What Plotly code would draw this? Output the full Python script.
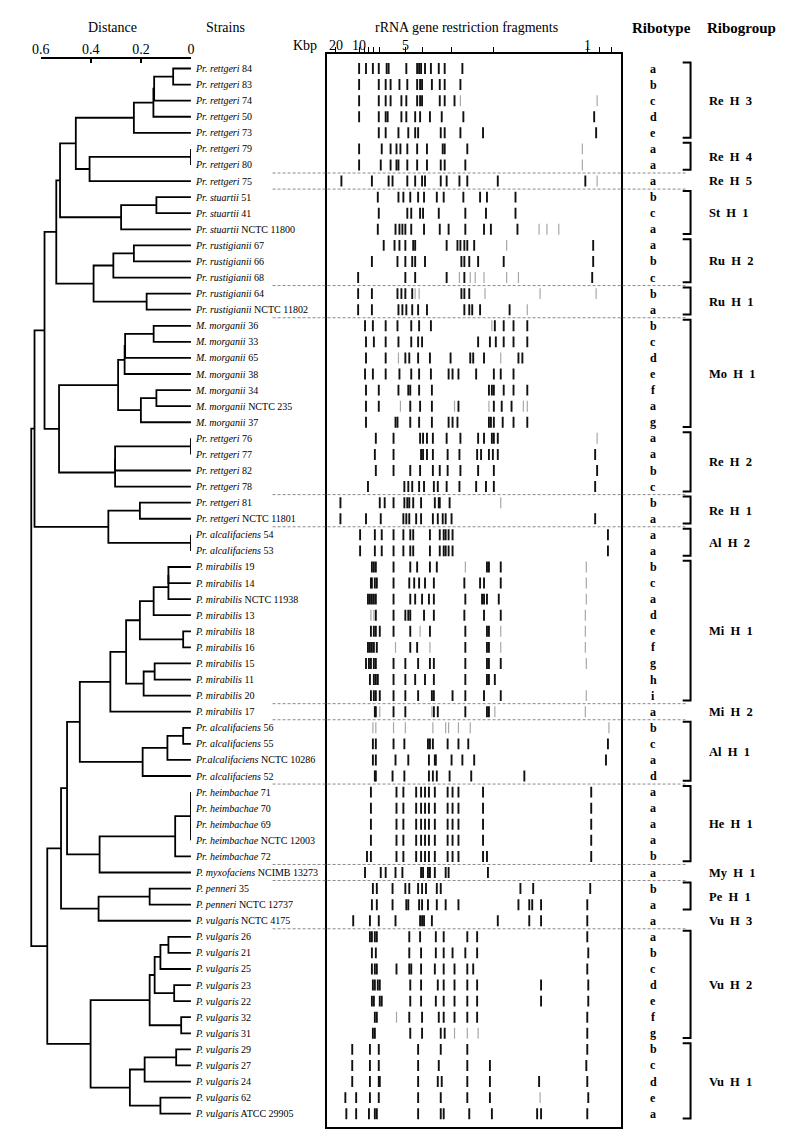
import plotly.graph_objects as go

# ---------------- data ----------------
species = (["Pr. rettgeri"] * 8 + ["Pr. stuartii"] * 3 + ["Pr. rustigianii"] * 5 +
           ["M. morganii"] * 7 + ["Pr. rettgeri"] * 6 + ["Pr. alcalifaciens"] * 2 +
           ["P. mirabilis"] * 10 + ["Pr. alcalifaciens", "Pr. alcalifaciens", "Pr.alcalifaciens",
           "Pr. alcalifaciens"] + ["Pr. heimbachae"] * 5 + ["P. myxofaciens"] +
           ["P. penneri"] * 2 + ["P. vulgaris"] * 13)
strain_ids = ["84", "83", "74", "50", "73", "79", "80", "75",
              "51", "41", "NCTC 11800",
              "67", "66", "68", "64", "NCTC 11802",
              "36", "33", "65", "38", "34", "NCTC 235", "37",
              "76", "77", "82", "78", "81", "NCTC 11801",
              "54", "53",
              "19", "14", "NCTC 11938", "13", "18", "16", "15", "11", "20", "17",
              "56", "55", "NCTC 10286", "52",
              "71", "70", "69", "NCTC 12003", "72",
              "NCIMB 13273", "35", "NCTC 12737",
              "NCTC 4175", "26", "21", "25", "23", "22", "32", "31",
              "29", "27", "24", "62", "ATCC 29905"]
ribotypes = list("abcde" "aa" "a" "bca" "abc" "ba" "bcdefag" "aabc" "ba" "aa"
                 "bcadefghi" "a" "bcad" "aaaab" "a" "ba" "a" "abcdefg" "bcdea")

# ribogroups: name, first row, last row
groups = [("Re H 3", 1, 5), ("Re H 4", 6, 7), ("Re H 5", 8, 8), ("St H 1", 9, 11),
          ("Ru H 2", 12, 14), ("Ru H 1", 15, 16), ("Mo H 1", 17, 23), ("Re H 2", 24, 27),
          ("Re H 1", 28, 29), ("Al H 2", 30, 31), ("Mi H 1", 32, 40), ("Mi H 2", 41, 41),
          ("Al H 1", 42, 45), ("He H 1", 46, 50), ("My H 1", 51, 51), ("Pe H 1", 52, 53),
          ("Vu H 3", 54, 54), ("Vu H 2", 55, 61), ("Vu H 1", 62, 66)]
separators = [7, 8, 14, 16, 27, 29, 40, 41, 45, 50, 51, 54]

# dendrogram linkage: [left, right, distance]; index < 66 = leaf (row-1), else merge (index-66)
linkage = [
    [0, 1, 0.071], [66, 2, 0.147], [67, 3, 0.150], [68, 4, 0.228],
    [5, 6, 0.0], [70, 7, 0.405], [69, 71, 0.460],
    [8, 9, 0.138], [73, 10, 0.279], [72, 74, 0.523],
    [11, 12, 0.228], [76, 13, 0.310], [14, 15, 0.177], [77, 78, 0.389],
    [75, 79, 0.538],
    [16, 17, 0.149], [81, 18, 0.263], [82, 19, 0.265], [20, 21, 0.138], [84, 22, 0.200],
    [83, 85, 0.291],
    [23, 24, 0.0], [87, 25, 0.303], [88, 26, 0.303], [86, 89, 0.527],
    [80, 90, 0.585],
    [27, 28, 0.204], [29, 30, 0.0], [92, 93, 0.330], [91, 94, 0.625],
    [31, 32, 0.090], [96, 33, 0.090], [97, 34, 0.149], [35, 36, 0.031], [98, 99, 0.204],
    [37, 38, 0.145], [101, 39, 0.189], [100, 102, 0.259], [103, 40, 0.322],
    [41, 42, 0.031], [105, 43, 0.094], [106, 44, 0.193], [104, 107, 0.444],
    [45, 46, 0.0], [47, 48, 0.0], [109, 110, 0.0], [111, 49, 0.063], [112, 50, 0.365],
    [108, 113, 0.495],
    [51, 52, 0.165], [115, 53, 0.369], [114, 116, 0.519],
    [54, 55, 0.090], [118, 56, 0.122], [57, 58, 0.067], [119, 120, 0.145],
    [59, 60, 0.039], [121, 122, 0.165],
    [61, 62, 0.059], [124, 63, 0.185], [64, 65, 0.122], [125, 126, 0.244],
    [123, 127, 0.401], [117, 128, 0.574], [95, 129, 0.638],
]

# band migration distance (gel units from the left edge) for each lane
bands = [
    [33, 40, 47, 53, 61, 63, 81, 92, 94, 96, 100, 106, 114, 120, 138],
    [33, 53, 60, 65, 74, 82, 92, 95, 97, 107, 115, 120, 136],
    [33, 53, 60, 65, 76, 81, 92, 95, 97, 115, 120, 130],
    [33, 53, 60, 62, 76, 81, 90, 95, 105, 117, 139, 272],
    [53, 60, 73, 83, 90, 93, 116, 120, 136, 159, 274],
    [33, 56, 65, 71, 75, 82, 92, 102, 118, 120, 143],
    [33, 55, 65, 71, 73, 82, 92, 102, 116, 120, 141],
    [15, 46, 63, 67, 82, 90, 97, 100, 116, 122, 135, 143, 174, 263],
    [52, 73, 78, 85, 93, 99, 112, 119, 139, 156, 163, 192],
    [53, 82, 86, 95, 98, 114, 141, 162, 192],
    [52, 70, 74, 77, 80, 86, 99, 115, 124, 141, 160, 167, 194],
    [58, 69, 74, 80, 88, 90, 122, 133, 136, 140, 143, 150, 271],
    [46, 72, 80, 87, 90, 100, 137, 140, 145, 154, 180, 271],
    [32, 80, 90, 122, 140, 270],
    [32, 46, 72, 76, 80, 87, 137, 140, 145],
    [32, 46, 73, 77, 81, 87, 93, 102, 140, 145, 148, 156, 186],
    [39, 47, 60, 72, 86, 94, 106, 171, 180, 190, 204],
    [40, 48, 60, 73, 86, 93, 97, 154, 166, 172, 180, 190, 204],
    [40, 60, 80, 84, 93, 105, 126, 146, 149, 160, 195, 199],
    [39, 47, 60, 74, 86, 94, 106, 124, 128, 134, 152, 170, 177, 190],
    [40, 53, 73, 83, 85, 94, 107, 165, 168, 170, 180, 190, 204],
    [40, 53, 85, 95, 107, 134, 170, 178, 188],
    [40, 70, 72, 85, 94, 107, 124, 128, 133, 165, 167, 170, 179, 190, 204],
    [50, 68, 95, 98, 102, 108, 122, 136, 154, 160, 168, 170, 174],
    [49, 68, 96, 98, 102, 108, 123, 135, 153, 157, 165, 169, 174, 273],
    [50, 68, 85, 95, 108, 115, 123, 136, 154, 170, 275],
    [42, 79, 83, 87, 94, 99, 109, 113, 122, 135, 152, 162, 170, 273],
    [14, 54, 59, 68, 79, 82, 84, 88, 96, 110, 114, 115, 125],
    [14, 40, 55, 78, 81, 84, 91, 96, 108, 113, 118, 121, 127, 273],
    [34, 49, 56, 68, 78, 85, 88, 105, 115, 119, 121, 124, 128, 286],
    [34, 49, 56, 68, 78, 85, 88, 105, 115, 119, 121, 124, 128, 286],
    [46, 48, 50, 68, 85, 92, 105, 112, 163, 165, 177],
    [45, 46, 49, 51, 68, 84, 89, 94, 100, 109, 140, 156, 160, 177],
    [42, 44, 46, 48, 50, 68, 85, 90, 97, 104, 109, 141, 158, 160, 163, 175],
    [50, 68, 80, 83, 85, 99, 109, 140, 160, 177],
    [45, 48, 50, 54, 68, 85, 105, 141, 163, 165],
    [42, 44, 46, 48, 51, 85, 92, 141, 163, 165],
    [40, 43, 45, 48, 50, 68, 80, 93, 105, 109, 141, 163, 165, 177],
    [44, 48, 50, 52, 68, 80, 90, 100, 109, 141, 163, 165, 171],
    [45, 48, 50, 54, 68, 80, 93, 107, 109, 128, 141, 160, 177],
    [49, 50, 68, 80, 109, 113, 141, 163, 165],
    [],
    [47, 50, 68, 79, 103, 105, 108, 123, 134, 144, 286],
    [47, 50, 70, 83, 104, 110, 111, 127, 138, 150, 284],
    [49, 50, 67, 79, 104, 108, 112, 125, 147, 201],
    [45, 71, 78, 91, 96, 100, 104, 110, 123, 128, 134, 159, 269],
    [45, 71, 78, 91, 96, 100, 104, 110, 123, 128, 134, 159, 269],
    [45, 71, 78, 91, 96, 100, 104, 110, 123, 128, 134, 159, 269],
    [45, 71, 78, 91, 96, 100, 104, 110, 123, 128, 134, 159, 269],
    [41, 45, 71, 78, 91, 96, 100, 104, 110, 123, 128, 134, 159, 163, 269],
    [39, 55, 60, 70, 77, 96, 98, 103, 105, 110, 121, 124, 164],
    [47, 51, 67, 80, 84, 93, 97, 101, 112, 116, 197, 210, 268],
    [46, 51, 67, 81, 83, 94, 97, 103, 112, 121, 134, 195, 206, 209, 218, 265],
    [27, 44, 53, 70, 95, 97, 99, 107, 174, 206, 218, 265],
    [44, 46, 49, 51, 84, 95, 111, 119, 143, 153, 265],
    [46, 50, 84, 96, 111, 119, 128, 141, 153, 266],
    [46, 49, 51, 71, 84, 86, 96, 110, 119, 130, 143, 149, 265],
    [47, 49, 52, 54, 85, 96, 113, 119, 130, 143, 153, 218, 266],
    [46, 48, 54, 56, 85, 96, 111, 119, 130, 143, 153, 218, 266],
    [49, 51, 84, 97, 114, 119, 130, 143, 153, 265],
    [47, 49, 85, 97, 116, 120, 265],
    [26, 44, 53, 93, 116, 143, 265],
    [26, 44, 53, 93, 114, 143, 166, 264],
    [26, 44, 53, 54, 93, 113, 117, 143, 166, 216, 265],
    [19, 30, 44, 53, 93, 116, 143, 166, 266],
    [20, 30, 43, 49, 51, 93, 116, 119, 145, 168, 214, 218, 265],
]
# weak (pale) bands: lane number -> migration distances
faint_bands = {
    3: [136, 275], 6: [260], 7: [260], 8: [275], 11: [216, 224, 236], 12: [183],
    14: [135, 146, 151, 160, 183, 195], 15: [90, 94, 161, 217, 274], 16: [204],
    17: [168], 19: [73, 177], 22: [75, 130, 165, 200, 204], 24: [275], 28: [177],
    32: [141, 264], 33: [264], 34: [264], 35: [45, 48, 263], 36: [95, 177, 263],
    37: [70, 105, 177, 263], 38: [264], 40: [264], 41: [54, 107, 171, 263],
    42: [47, 50, 68, 80, 108, 121, 124, 134, 146, 287], 60: [71], 61: [130, 143, 154],
    65: [217],
}

kbp_tick_pos = [9, 33, 38, 43, 48, 54, 80, 97, 127, 170, 265, 277, 290]
kbp_tick_lab = ["20", "10", "", "", "", "", "5", "", "", "", "1", "", ""]
dist_ticks = [0.6, 0.4, 0.2, 0]
dist_labels = ["0.6", "0.4", "0.2", "0"]

# ---------------- layout constants ----------------
W, H = 787, 1143
ROW0, ROWH = 68.5, 16.08          # pixel y of first lane, lane pitch
PX_PER_DIST = 254.5
DEND_RIGHT = 185
GEL_L, GEL_R, GEL_T, GEL_B = 323, 622, 54, 1127
SERIF = "Liberation Serif, Times New Roman, serif"


def row_at(py_):
    return 1 + (py_ - ROW0) / ROWH


def px(x):
    return x / W


def py(y):
    return 1 - y / H


n = len(species)
fig = go.Figure()

# ---- dendrogram ----
node_h = [0.0] * n
node_y = [float(i + 1) for i in range(n)]
dx, dy = [], []
for a, b, h in linkage:
    dx += [node_h[a], h, h, node_h[b], None]
    dy += [node_y[a], node_y[a], node_y[b], node_y[b], None]
    node_h.append(h)
    node_y.append((node_y[a] + node_y[b]) / 2)
fig.add_trace(go.Scatter(x=dx, y=dy, mode="lines", line=dict(color="black", width=1.8),
                         xaxis="x", yaxis="y", hoverinfo="skip", showlegend=False))
# invisible trace to host the distance scale axis
fig.add_trace(go.Scatter(x=[0.3], y=[1], mode="markers", marker=dict(opacity=0),
                         xaxis="x2", yaxis="y", hoverinfo="skip", showlegend=False))

# ---- gel bands ----
bx, by = [], []
for i, lane in enumerate(bands):
    r = i + 1
    for p in lane:
        bx += [p, p, None]
        by += [r - 0.34, r + 0.34, None]
fx, fy = [], []
for r, lane in faint_bands.items():
    for p in lane:
        fx += [p, p, None]
        fy += [r - 0.34, r + 0.34, None]
fig.add_trace(go.Scatter(x=fx, y=fy, mode="lines", line=dict(color="#a8a8a8", width=1.2),
                         xaxis="x3", yaxis="y3", hoverinfo="skip", showlegend=False))
fig.add_trace(go.Scatter(x=bx, y=by, mode="lines", line=dict(color="#111111", width=1.9),
                         xaxis="x3", yaxis="y3", hoverinfo="skip", showlegend=False))

annotations = []
shapes = []

# strain labels and ribotypes
for i in range(n):
    annotations.append(dict(
        x=0, y=i + 1, xref="x", yref="y", xanchor="left", yanchor="middle", xshift=2,
        text="<i>%s</i> %s" % (species[i], strain_ids[i]), showarrow=False,
        font=dict(family=SERIF, size=10, color="black")))
    annotations.append(dict(
        x=px(655), y=i + 1, xref="paper", yref="y", xanchor="center", yanchor="middle",
        text="<b>%s</b>" % ribotypes[i], showarrow=False,
        font=dict(family=SERIF, size=12, color="black")))

# ribogroups
for name, r0, r1 in groups:
    annotations.append(dict(
        x=px(710), y=(r0 + r1) / 2, xref="paper", yref="y", xanchor="left", yanchor="middle",
        text="<b>%s</b>" % name.replace(" ", "\u00a0\u00a0"), showarrow=False,
        font=dict(family=SERIF, size=12.5, color="black")))
    if r1 > r0:
        shapes.append(dict(
            type="path", xref="paper", yref="y",
            path="M %f,%f L %f,%f L %f,%f L %f,%f" % (
                px(685), r0 - 0.38, px(693), r0 - 0.38, px(693), r1 + 0.3, px(685), r1 + 0.3),
            line=dict(color="black", width=2)))

# dashed separators
for s in separators:
    shapes.append(dict(type="line", xref="paper", yref="y", x0=px(268), x1=px(688),
                       y0=s + 0.5, y1=s + 0.5, line=dict(color="#8a8a8a", width=1, dash="3px,2px")))

# gel size labels (at the tick positions of the gel axis)
for pos, lab in zip(kbp_tick_pos, kbp_tick_lab):
    if lab:
        annotations.append(dict(x=pos, y=py(46), xref="x3", yref="paper", xanchor="center",
                                yanchor="middle", showarrow=False, text=lab,
                                font=dict(family=SERIF, size=14, color="black")))

# headers
for txt, xx, bold in [("Distance", 105, False), ("Strains", 220, False),
                      ("rRNA gene restriction fragments", 465, False),
                      ("Ribotype", 663, True), ("Ribogroup", 745, True)]:
    annotations.append(dict(x=px(xx), y=py(28), xref="paper", yref="paper",
                            xanchor="center", yanchor="middle", showarrow=False,
                            text="<b>%s</b>" % txt if bold else txt,
                            font=dict(family=SERIF, size=15 if bold else 14, color="black")))
annotations.append(dict(x=px(301), y=py(46), xref="paper", yref="paper", xanchor="center",
                        yanchor="middle", showarrow=False, text="Kbp",
                        font=dict(family=SERIF, size=14, color="black")))

fig.update_layout(
    width=W, height=H, margin=dict(l=0, r=0, t=0, b=0),
    paper_bgcolor="white", plot_bgcolor="rgba(0,0,0,0)",
    showlegend=False, annotations=annotations, shapes=shapes,
    xaxis=dict(domain=[0, px(DEND_RIGHT)], range=[DEND_RIGHT / PX_PER_DIST, 0],
               visible=False, anchor="y"),
    yaxis=dict(domain=[0, 1], range=[row_at(H), row_at(0)], visible=False, anchor="x"),
    xaxis2=dict(domain=[px(DEND_RIGHT - 0.6 * PX_PER_DIST), px(DEND_RIGHT)],
                range=[0.6, 0], anchor="free", position=py(58), side="top",
                ticks="inside", ticklen=4, tickwidth=1.5, showline=True, linewidth=1.5,
                linecolor="black", tickcolor="black", tickvals=dist_ticks,
                ticktext=dist_labels, ticklabelstandoff=-2, showgrid=False, zeroline=False,
                tickfont=dict(family=SERIF, size=14, color="black")),
    xaxis3=dict(domain=[px(GEL_L), px(GEL_R)], range=[0, GEL_R - GEL_L], anchor="y3",
                side="top", ticks="outside", ticklen=5, tickwidth=1.2, tickcolor="black",
                showline=True, mirror=True, linewidth=2, linecolor="black",
                tickvals=kbp_tick_pos, showticklabels=False,
                showgrid=False, zeroline=False),
    yaxis3=dict(domain=[py(GEL_B), py(GEL_T)], range=[row_at(GEL_B), row_at(GEL_T)],
                anchor="x3", showline=True, mirror=True, linewidth=2, linecolor="black",
                ticks="", showticklabels=False, showgrid=False, zeroline=False),
)

fig.write_html("out.html", config={"displayModeBar": False},
               post_script="document.body.style.margin='0';document.body.style.overflow='hidden';")
